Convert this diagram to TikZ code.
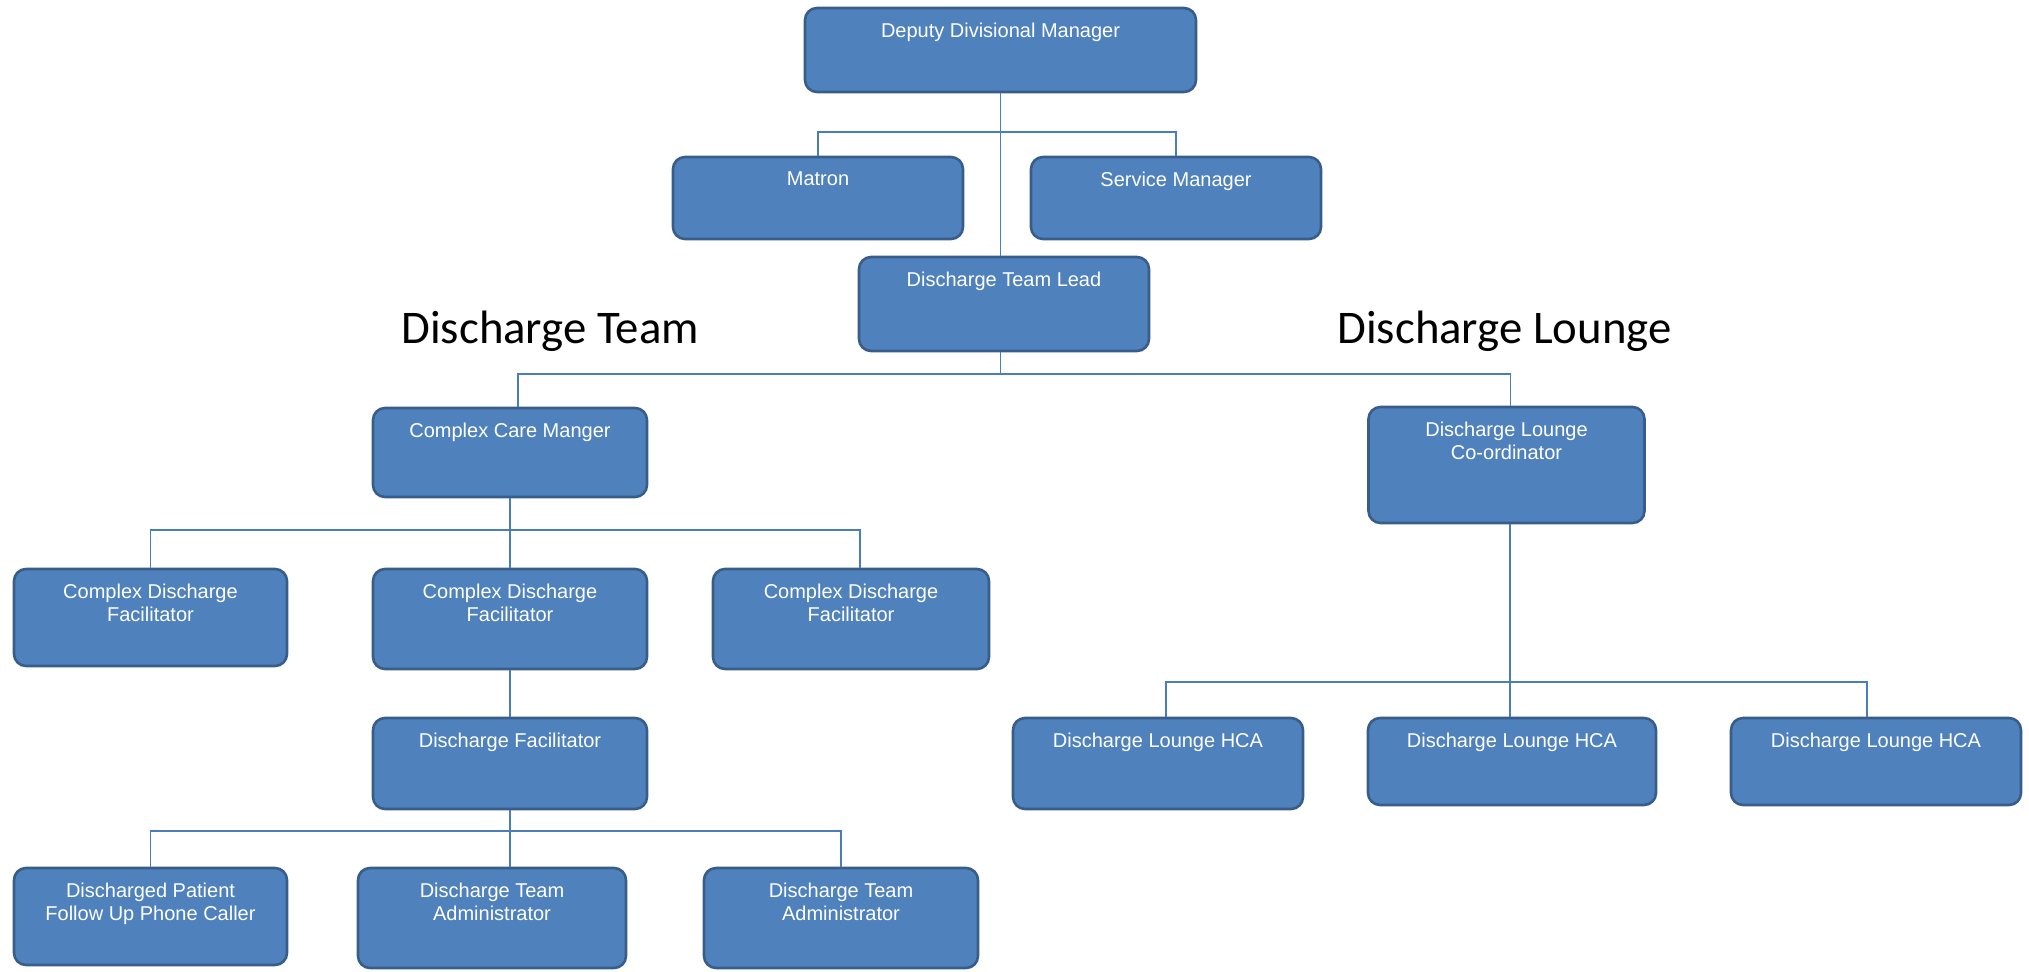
\documentclass[tikz,border=0pt]{standalone}
\usepackage{fontspec}
\setsansfont{Liberation Sans}
\newfontfamily\headfont{Carlito}
\usepackage{xcolor}
\usepackage{tikz}
\usetikzlibrary{positioning}

\definecolor{boxfill}{HTML}{4F81BD}
\definecolor{boxline}{HTML}{385D8A}
\definecolor{linkcol}{HTML}{4A7EBB}

\begin{document}
\begin{tikzpicture}[
      x=0.5pt, y=-0.5pt,
      role/.style={
        draw=boxline,
        fill=boxfill,
        line width=1.3pt,
        rounded corners=6pt,
        rectangle
      },
      lbl/.style={
        anchor=north,
        yshift=-8pt,
        inner sep=0pt,
        text=white,
        align=center,
        font=\sffamily\fontsize{10}{11.5}\selectfont
      },
      link/.style={
        draw=linkcol,
        line width=0.7pt
      },
      heading/.style={
        anchor=base west,
        inner sep=0pt,
        font=\headfont\fontsize{23.4}{28}\selectfont
      }
      ]
        \useasboundingbox (0,0) rectangle (2029,971);

        % top
        \node[role, minimum width=195.5pt, minimum height=42pt, label={[lbl]north:Deputy Divisional Manager}] (ddm) at (1000.5,50) {};
        \node[role, minimum width=145pt, minimum height=41pt, label={[lbl]north:Matron}] (matron) at (818,198) {};
        \node[role, minimum width=145pt, minimum height=41pt, label={[lbl]north:Service Manager}] (sm) at (1176,198) {};
        \node[role, minimum width=145pt, minimum height=47pt, label={[lbl]north:Discharge Team Lead}] (dtl) at (1004,304) {};

        \node[heading] (hteam) at (401,343) {Discharge Team};
        \node[heading] (hlounge) at (1337,343) {Discharge Lounge};

        % discharge team
        \node[role, minimum width=137pt, minimum height=44.5pt, label={[lbl]north:Complex Care Manger}] (ccm) at (510,452.5) {};
        \node[role, minimum width=136.5pt, minimum height=48.5pt, label={[lbl]north:Complex Discharge\\Facilitator}] (cdf1) at (150.5,617.5) {};
        \node[role, minimum width=137pt, minimum height=50pt, label={[lbl]north:Complex Discharge\\Facilitator}] (cdf2) at (510,619) {};
        \node[role, minimum width=138pt, minimum height=50pt, label={[lbl]north:Complex Discharge\\Facilitator}] (cdf3) at (851,619) {};
        \node[role, minimum width=137pt, minimum height=45.5pt, label={[lbl]north:Discharge Facilitator}] (df) at (510,763.5) {};
        \node[role, minimum width=136.5pt, minimum height=48.5pt, label={[lbl]north:Discharged Patient\\Follow Up Phone Caller}] (dpc) at (150.5,916.5) {};
        \node[role, minimum width=134pt, minimum height=50pt, label={[lbl]north:Discharge Team\\Administrator}] (dta1) at (492,918) {};
        \node[role, minimum width=137pt, minimum height=50pt, label={[lbl]north:Discharge Team\\Administrator}] (dta2) at (841,918) {};

        % discharge lounge
        \node[role, minimum width=138pt, minimum height=58pt, label={[lbl]north:Discharge Lounge\\Co-ordinator}] (dlc) at (1506.5,465) {};
        \node[role, minimum width=145pt, minimum height=45.5pt, label={[lbl]north:Discharge Lounge HCA}] (hca1) at (1158,763.5) {};
        \node[role, minimum width=144pt, minimum height=43.5pt, label={[lbl]north:Discharge Lounge HCA}] (hca2) at (1512,761.5) {};
        \node[role, minimum width=145pt, minimum height=43.5pt, label={[lbl]north:Discharge Lounge HCA}] (hca3) at (1876,761.5) {};

        \coordinate (bus1) at (1000.5,132);
        \coordinate (bus2) at (1000.5,374);
        \coordinate (bus3) at (510,530);
        \coordinate (bus4) at (510,831);
        \coordinate (bus5) at (1510,682);

        \draw[link] (ddm.south) -- (ddm.south |- dtl.north);
        \draw[link] (matron.north) |- (bus1) -| (sm.north);
        \draw[link] (dtl.south -| bus2) -- (bus2);
        \draw[link] ([xshift=4pt]ccm.north) |- (bus2) -| ([xshift=2pt]dlc.north);
        \draw[link] (ccm.south) -- (cdf2.north);
        \draw[link] (cdf1.north) |- (bus3) -| ([xshift=4.5pt]cdf3.north);
        \draw[link] (cdf2.south) -- (df.north);
        \draw[link] (df.south) -- (df.south |- dta1.north);
        \draw[link] (dpc.north) |- (bus4) -| (dta2.north);
        \draw[link] (dlc.south -| bus5) -- (bus5 |- hca2.north);
        \draw[link] ([xshift=4pt]hca1.north) |- (bus5) -| ([xshift=-4.5pt]hca3.north);
    \end{tikzpicture}
\end{document}
